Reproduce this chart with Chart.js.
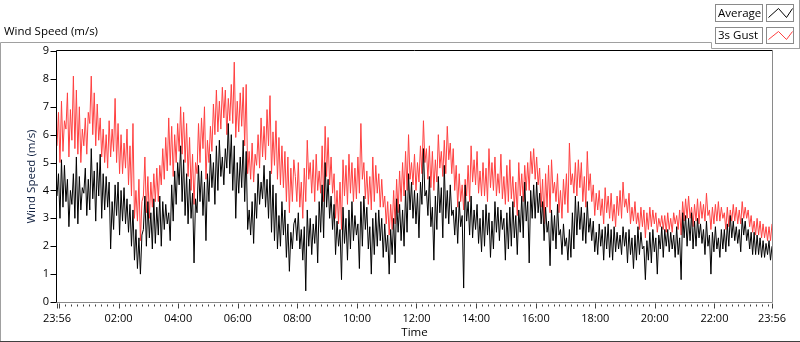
<!DOCTYPE html>
<html>
<head>
<meta charset="utf-8">
<script src="https://cdn.jsdelivr.net/npm/chart.js@4.4.1/dist/chart.umd.min.js"></script>
<style>
  html, body { margin: 0; padding: 0; background: #fff; }
  #wrap { position: relative; width: 800px; height: 342px; }
</style>
</head>
<body>
<div id="wrap"><canvas id="windChart" width="800" height="342"></canvas></div>
<script>
// one sample every 3 minutes, starting 23:56
const stepMinutes = 3;
const tickMinutes = [0, 124, 244, 364, 484, 604, 724, 844, 964, 1084, 1204, 1324, 1440];
const tickLabels = ['23:56', '02:00', '04:00', '06:00', '08:00', '10:00', '12:00',
  '14:00', '16:00', '18:00', '20:00', '22:00', '23:56'];
const seriesNames = ['Average', '3s Gust'];

const averageSpeed = [
  3.8,4.6, 3.0,5.1, 3.4,4.9, 3.6,4.4, 2.7,4.0, 3.5,4.6, 3.0,5.2, 2.8,4.5, 3.3,4.1, 3.9,4.8,
  3.1,4.4, 3.3,5.5, 3.7,4.7, 2.9,5.0, 3.8,5.3, 3.0,4.6, 3.3,4.5, 3.4,4.3, 1.9,3.6, 2.6,4.2,
  3.1,4.3, 2.4,4.0, 2.9,4.1, 2.8,3.7, 2.5,3.5, 2.0,3.3, 1.5,2.6, 1.2,2.3, 1.0,2.4, 2.6,3.8,
  2.0,3.6, 2.3,3.2, 1.9,3.7, 2.1,3.4, 2.4,3.8, 2.0,3.6, 2.6,3.5, 2.8,3.2, 2.2,4.2, 2.9,4.7,
  3.5,5.0, 4.2,5.6, 3.6,5.1, 3.1,4.6, 2.8,4.4, 3.0,3.9, 1.4,3.7, 3.2,4.9, 3.6,4.7, 3.1,4.3,
  2.2,4.6, 3.6,5.3, 4.1,5.0, 3.5,5.6, 4.0,5.8, 4.5,5.2, 4.2,5.5, 4.8,6.4, 4.6,6.0, 4.0,5.6,
  3.0,5.0, 3.9,5.2, 4.1,5.8, 3.6,5.4, 2.6,3.3, 2.4,3.6, 2.1,3.9, 3.0,4.6, 3.5,4.3, 3.7,4.9,
  3.4,4.4, 3.0,4.7, 2.5,4.2, 2.2,3.9, 1.9,3.1, 2.0,3.6, 2.4,3.3, 1.6,2.8, 1.1,2.5, 1.9,2.8,
  3.0,2.2, 3.2,1.9, 2.6,1.5, 2.7,0.4, 3.3,2.0, 3.0,1.7, 2.8,2.1, 3.1,1.4, 3.6,2.5, 4.2,2.3,
  5.0,3.4, 4.4,3.0, 3.8,2.6, 3.5,1.7, 2.9,2.0, 2.6,0.8, 3.4,2.1, 3.0,1.5, 3.3,1.9, 3.6,2.2,
  3.1,2.4, 2.8,1.2, 3.6,2.0, 3.8,2.6, 3.4,1.9, 2.7,1.0, 3.0,1.7, 3.2,2.0, 3.3,2.2, 3.0,1.6,
  2.8,1.8, 2.4,1.0, 2.6,1.7, 3.0,1.4, 3.7,2.5, 3.5,2.2, 3.3,2.0, 4.0,2.5, 4.6,3.3, 4.3,3.0,
  4.0,2.8, 3.9,2.3, 4.3,3.5, 5.5,3.8, 4.0,3.1, 4.5,2.7, 3.4,1.5, 3.8,2.6, 4.5,3.2, 4.1,2.3,
  4.9,3.0, 4.0,2.8, 4.2,3.1, 3.3,2.4, 3.4,2.1, 3.6,2.7, 3.1,0.5, 4.2,2.9, 3.6,2.4, 3.8,2.3,
  3.3,2.6, 3.5,2.1, 3.0,1.8, 3.3,2.0, 3.5,2.4, 3.2,1.6, 2.9,1.9, 3.6,2.5, 3.4,2.2, 3.3,2.6,
  3.0,1.5, 3.2,1.9, 3.4,2.0, 3.6,2.3, 3.1,1.7, 3.3,2.5, 3.8,2.3, 4.3,2.9, 3.6,1.4, 4.0,3.0,
  4.2,3.0, 4.3,3.2, 3.9,2.8, 3.6,2.2, 3.4,2.5, 2.9,1.3, 3.3,2.2, 3.1,1.9, 3.5,2.4, 2.6,1.7,
  2.8,2.0, 2.3,1.5, 2.6,1.6, 3.2,1.9, 3.8,2.4, 3.6,2.6, 3.4,2.2, 3.2,2.1, 3.6,2.5, 3.0,2.2,
  2.9,1.8, 2.5,1.7, 2.8,2.0, 2.6,1.5, 2.7,1.9, 2.8,1.6, 2.6,1.5, 2.7,1.8, 2.5,1.9, 2.4,1.7,
  2.7,2.0, 2.5,1.4, 2.6,1.7, 2.3,1.2, 2.4,1.5, 2.7,1.7, 2.5,1.9, 2.0,0.8, 2.2,1.5, 2.5,1.4,
  2.6,1.8, 2.3,1.0, 2.4,1.9, 2.7,1.6, 2.6,2.0, 2.6,1.8, 2.5,1.9, 2.4,1.6, 2.7,1.7, 2.3,0.8,
  3.2,2.3, 3.1,2.0, 3.0,2.2, 3.2,1.9, 2.9,2.0, 3.0,2.3, 2.8,2.1, 2.6,1.7, 2.9,2.0, 2.4,1.0,
  2.5,1.8, 2.7,1.9, 2.3,1.6, 2.6,1.9, 2.6,1.8, 2.8,2.0, 3.1,2.3, 2.9,2.2, 2.7,2.1, 2.6,1.8,
  3.0,2.4, 2.9,2.2, 2.6,1.9, 2.5,1.7, 2.5,1.7, 2.4,1.7, 2.3,1.6, 2.2,1.6, 2.1,1.7, 2.2,1.5,
  2.0
];

const gustSpeed = [
  5.6,6.8, 5.0,7.2, 5.4,6.5, 6.2,7.5, 5.2,6.9, 5.8,8.1, 5.5,7.6, 5.3,7.0, 5.0,6.2, 5.6,6.6,
  5.3,6.8, 6.4,8.1, 6.0,7.5, 5.6,7.1, 5.8,6.6, 5.2,6.2, 5.0,6.0, 4.8,6.5, 5.2,6.2, 5.4,7.3,
  5.0,6.4, 4.6,6.0, 4.6,5.7, 4.8,6.2, 4.2,5.6, 3.8,6.4, 3.0,4.0, 2.9,4.4, 2.2,3.6, 3.8,5.2,
  3.2,4.5, 3.0,4.3, 3.4,4.6, 3.6,4.8, 3.6,4.9, 4.2,5.5, 4.4,5.9, 4.7,6.6, 4.9,6.3, 4.5,6.0,
  5.0,6.4, 5.4,7.0, 5.3,6.8, 5.0,6.4, 4.5,5.9, 4.0,5.3, 3.5,5.0, 4.6,6.4, 5.0,6.6, 5.5,7.0,
  4.4,5.8, 5.0,6.3, 5.4,7.1, 6.0,7.6, 6.1,7.2, 6.2,7.7, 6.6,7.6, 6.0,7.3, 6.5,7.8, 6.4,8.6,
  5.9,7.2, 6.1,7.5, 6.3,7.7, 5.6,7.8, 4.6,5.4, 4.4,5.7, 4.3,5.3, 4.9,6.0, 4.8,6.6, 5.2,6.3,
  5.1,6.9, 5.6,7.4, 4.6,6.1, 4.9,6.5, 4.4,5.9, 4.2,5.6, 4.1,5.4, 3.6,5.2, 3.2,4.8, 3.6,5.1,
  4.5,3.6, 5.0,3.4, 4.3,3.0, 4.8,3.6, 5.8,4.4, 5.0,3.9, 5.1,3.6, 5.3,4.0, 4.7,3.9, 5.6,3.6,
  6.3,4.5, 5.9,4.2, 5.2,3.9, 4.6,3.0, 4.0,2.8, 4.3,2.6, 5.1,3.8, 4.9,3.5, 5.3,3.9, 5.0,3.6,
  4.8,3.7, 5.2,3.9, 6.4,4.4, 5.0,3.7, 4.7,3.5, 4.5,3.3, 5.2,3.6, 4.9,3.9, 4.6,3.4, 4.4,3.4,
  3.8,2.8, 3.6,2.4, 3.5,2.6, 4.0,2.8, 4.4,3.2, 4.7,3.6, 5.0,3.8, 5.4,4.0, 6.0,4.4, 5.0,4.2,
  5.3,4.0, 5.0,4.3, 5.6,4.6, 6.5,5.0, 5.5,4.4, 5.6,4.1, 5.4,4.0, 5.1,4.3, 6.0,4.8, 5.4,4.5,
  5.8,4.6, 6.3,5.1, 5.7,4.6, 5.5,4.0, 4.9,3.4, 4.6,3.6, 4.2,3.3, 4.4,3.8, 4.9,3.6, 5.6,4.3,
  5.1,4.2, 5.4,3.9, 4.7,3.8, 5.0,3.8, 4.8,3.6, 5.5,4.1, 5.0,4.0, 5.2,3.8, 4.6,3.9, 5.3,3.7,
  4.5,3.5, 4.9,3.6, 5.1,3.7, 4.5,3.4, 4.3,3.1, 5.0,3.8, 4.6,3.6, 4.9,4.0, 5.0,4.0, 5.4,4.6,
  5.5,4.4, 5.2,4.2, 4.8,3.4, 4.4,2.8, 4.6,3.4, 4.9,3.2, 5.1,3.9, 4.3,3.6, 4.6,3.2, 4.0,3.0,
  4.4,3.5, 4.6,3.2, 5.7,4.2, 4.6,3.9, 5.0,3.8, 5.1,4.1, 5.0,3.6, 4.5,3.4, 5.4,4.0, 4.6,3.6,
  4.2,3.1, 3.9,3.3, 4.0,3.1, 3.7,2.8, 4.1,3.2, 3.8,3.0, 3.9,2.9, 3.5,2.7, 3.8,3.1, 4.0,3.0,
  4.3,3.4, 3.7,3.2, 3.9,2.8, 3.4,2.9, 3.6,2.8, 3.2,2.6, 3.4,2.7, 3.3,2.3, 3.2,2.6, 3.4,2.7,
  3.3,2.8, 3.2,2.5, 3.0,2.7, 3.1,2.6, 3.1,2.5, 3.2,2.6, 3.0,2.5, 3.2,2.8, 3.1,2.6, 3.3,2.4,
  3.6,2.9, 3.7,3.0, 3.8,3.0, 3.4,2.7, 3.5,2.9, 3.7,2.8, 3.6,3.0, 3.5,2.9, 3.9,3.1, 3.3,2.6,
  3.4,2.8, 3.5,2.9, 3.6,2.9, 3.4,3.0, 3.2,2.6, 3.4,2.7, 3.3,2.9, 3.5,2.9, 3.4,2.8, 3.3,2.8,
  3.6,3.0, 3.4,3.0, 3.3,2.7, 3.1,2.5, 2.9,2.4, 3.0,2.4, 2.9,2.3, 2.8,2.3, 2.7,2.2, 2.7,2.2,
  2.8
];

const FONT = "'Open Sans', 'Noto Sans', sans-serif";
const toPoints = arr => arr.map((v, i) => ({ x: i * stepMinutes, y: v }));

// LabVIEW style frame, tick marks and legend
const framePlugin = {
  id: 'frame',
  afterDraw(chart) {
    const { ctx, chartArea: a, scales } = chart;
    const L = a.left - 0.5, T = a.top - 0.5, R = a.right + 0.5, B = a.bottom + 0.5;
    ctx.save();
    ctx.lineWidth = 1;

    // outer panel
    ctx.strokeStyle = '#a0a0a0';
    ctx.beginPath();
    ctx.moveTo(0.5, 342); ctx.lineTo(0.5, 42.5); ctx.lineTo(711.5, 42.5);
    ctx.lineTo(711.5, 48.5); ctx.lineTo(800, 48.5);
    ctx.moveTo(799.5, 0); ctx.lineTo(799.5, 48.5);
    ctx.stroke();
    ctx.strokeStyle = '#404040';
    ctx.beginPath(); ctx.moveTo(0, 341.5); ctx.lineTo(800, 341.5); ctx.stroke();

    // plot box
    ctx.strokeStyle = '#000';
    ctx.beginPath(); ctx.moveTo(L, B); ctx.lineTo(L, T); ctx.lineTo(R, T); ctx.stroke();
    ctx.strokeStyle = '#8a8a8a';
    ctx.beginPath(); ctx.moveTo(R, T); ctx.lineTo(R, B); ctx.lineTo(L, B); ctx.stroke();

    // y ticks
    ctx.strokeStyle = '#000';
    ctx.beginPath();
    scales.y.ticks.forEach(t => {
      const y = Math.round(scales.y.getPixelForValue(t.value)) + 0.5;
      ctx.moveTo(L - 6, y); ctx.lineTo(L, y);
    });
    ctx.stroke();

    // x ticks: minor every 12 min, major every 2 h
    ctx.strokeStyle = '#404040';
    ctx.beginPath();
    const major = [0, 1440];
    for (let m = 4; m <= 1440; m += 120) major.push(m);
    for (let m = 4; m <= 1440; m += 12) {
      if (major.includes(m)) continue;
      const x = Math.round(scales.x.getPixelForValue(m)) + 0.5;
      ctx.moveTo(x, B + 2); ctx.lineTo(x, B + 4);
    }
    major.forEach(m => {
      const x = Math.round(scales.x.getPixelForValue(m)) + 0.5;
      ctx.moveTo(x, B + 1); ctx.lineTo(x, B + 6);
    });
    ctx.stroke();

    // chart label
    ctx.fillStyle = '#000';
    ctx.font = '11.5px ' + FONT;
    ctx.textBaseline = 'middle';
    ctx.textAlign = 'left';
    ctx.fillText('Wind Speed (m/s)', 4, 32);

    // legend
    const rows = [
      { y: 4.5, h: 17, color: '#000' },
      { y: 27.5, h: 16, color: '#ff4040' }
    ];
    rows.forEach((r, i) => {
      ctx.fillStyle = '#fff';
      ctx.fillRect(716, r.y, 46, r.h);
      ctx.fillRect(767, r.y, 26, r.h);
      ctx.strokeStyle = '#8a8a8a';
      ctx.strokeRect(715.5, r.y, 47, r.h);
      ctx.strokeRect(766.5, r.y, 27, r.h);
      ctx.fillStyle = '#000';
      ctx.fillText(seriesNames[i], 718, r.y + r.h / 2 + 0.5);
      const base = r.y + r.h - 4, top = r.y + 4;
      ctx.strokeStyle = r.color;
      ctx.beginPath();
      ctx.moveTo(768.5, base); ctx.lineTo(778.5, top);
      ctx.lineTo(786.5, base); ctx.lineTo(792.5, top);
      ctx.stroke();
    });
    ctx.restore();
  }
};

new Chart(document.getElementById('windChart').getContext('2d'), {
  type: 'line',
  data: {
    datasets: [
      {
        label: seriesNames[0],
        data: toPoints(averageSpeed),
        borderColor: '#000',
        borderWidth: 1,
        pointRadius: 0,
        tension: 0
      },
      {
        label: seriesNames[1],
        data: toPoints(gustSpeed),
        borderColor: '#ff4040',
        borderWidth: 1,
        pointRadius: 0,
        tension: 0
      }
    ]
  },
  options: {
    responsive: false,
    animation: false,
    events: [],
    layout: { padding: { top: 51, right: 28, left: 0, bottom: 0 } },
    plugins: { legend: { display: false }, tooltip: { enabled: false } },
    scales: {
      x: {
        type: 'linear',
        min: 0,
        max: 1440,
        grid: { display: false, drawTicks: false },
        border: { display: false },
        afterBuildTicks: s => { s.ticks = tickMinutes.map(v => ({ value: v })); },
        afterFit: s => { s.height = 40; },
        ticks: {
          autoSkip: false,
          maxRotation: 0,
          padding: 10,
          color: '#000',
          font: { family: FONT, size: 11 },
          callback: v => tickLabels[tickMinutes.indexOf(v)]
        },
        title: {
          display: true,
          text: 'Time',
          color: '#000',
          font: { family: FONT, size: 11.5 },
          padding: { top: 0, bottom: 2 }
        }
      },
      y: {
        min: 0,
        max: 9,
        grid: { display: false, drawTicks: false },
        border: { display: false },
        afterFit: s => { s.width = 57; },
        ticks: {
          stepSize: 1,
          padding: 8,
          color: '#000',
          font: { family: FONT, size: 11 }
        },
        title: {
          display: true,
          text: 'Wind Speed (m/s)',
          color: '#102040',
          font: { family: FONT, size: 11.5 },
          padding: { top: 25, bottom: 0 }
        }
      }
    }
  },
  plugins: [framePlugin]
});
</script>
</body>
</html>
